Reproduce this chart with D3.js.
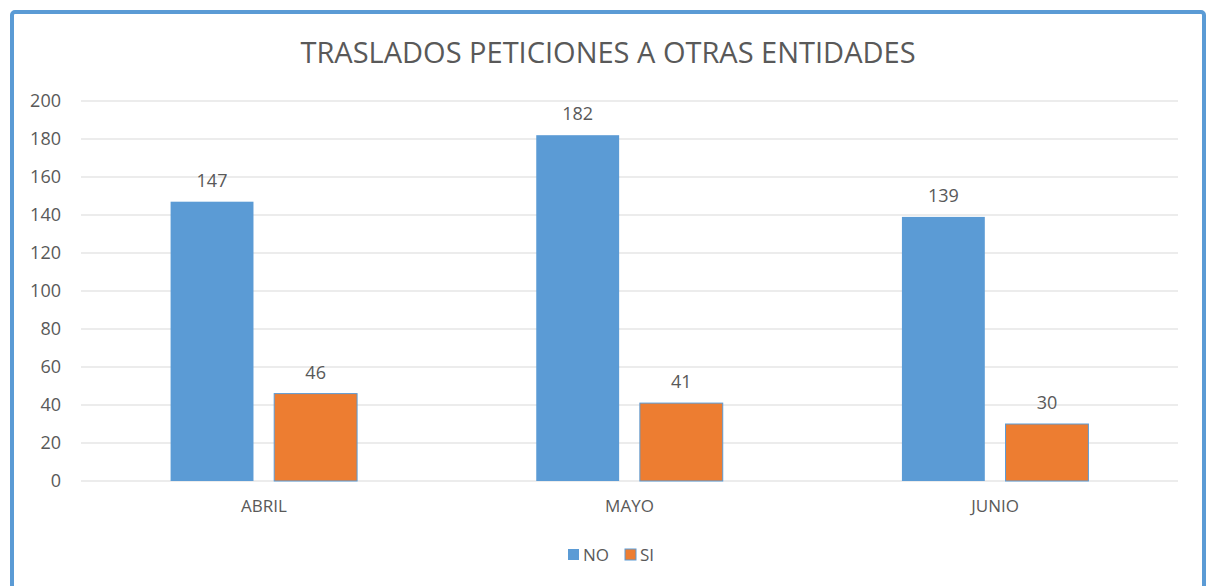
<!DOCTYPE html>
<html>
<head>
<meta charset="utf-8">
<script src="https://cdn.jsdelivr.net/npm/d3@7"></script>
<style>
  body { margin: 0; background: #fff; }
  text { font-family: "Open Sans", sans-serif; fill: #595959; }
</style>
</head>
<body>
<div class="chart"></div>
<script>
// chart data
const categories = ["ABRIL", "MAYO", "JUNIO"];
const seriesNames = ["NO", "SI"];
const noValues = [147, 182, 139];
const siValues = [46, 41, 30];
const yTicks = [0, 20, 40, 60, 80, 100, 120, 140, 160, 180, 200];

const colors = { NO: "#5B9BD5", SI: "#ED7D31" };

// layout
const W = 1210, H = 586;
const margin = { top: 101, left: 81, right: 32, bottom: 105 };
const width = W - margin.left - margin.right;
const height = H - margin.top - margin.bottom;

const svg = d3.select(".chart").append("svg")
    .attr("width", W)
    .attr("height", H);

// outer frame
svg.append("rect")
    .attr("x", 12).attr("y", 12)
    .attr("width", 1192).attr("height", 600)
    .attr("rx", 3)
    .attr("fill", "none")
    .attr("stroke", "#5B9BD5")
    .attr("stroke-width", 4);

// title
svg.append("text")
    .attr("x", 608).attr("y", 63)
    .attr("text-anchor", "middle")
    .style("font-size", "29px")
    .text("TRASLADOS PETICIONES A OTRAS ENTIDADES");

const g = svg.append("g")
    .attr("transform", `translate(${margin.left},${margin.top})`);

// scales
const x0 = d3.scaleBand()
    .domain(categories)
    .range([0, width])
    .paddingInner(0.49)
    .paddingOuter(0.245);

const x1 = d3.scaleBand()
    .domain(seriesNames)
    .range([0, x0.bandwidth()])
    .paddingInner(0.2);

const y = d3.scaleLinear()
    .domain([0, 200])
    .range([height, 0]);

// gridlines
g.append("g")
    .selectAll("line")
    .data(yTicks)
    .join("line")
    .attr("x1", 0).attr("x2", width)
    .attr("y1", d => y(d)).attr("y2", d => y(d))
    .attr("stroke", "#d9d9d9")
    .attr("stroke-width", 1);

// y axis labels
const yAxis = d3.axisLeft(y).tickValues(yTicks).tickSize(0).tickPadding(20);
g.append("g")
    .call(yAxis)
    .call(s => s.select(".domain").remove())
    .selectAll("text")
    .style("font-size", "18px");

// x axis labels
const xAxis = d3.axisBottom(x0).tickSize(0).tickPadding(19);
g.append("g")
    .attr("transform", `translate(0,${height})`)
    .call(xAxis)
    .call(s => s.select(".domain").remove())
    .selectAll("text")
    .style("font-size", "17px");

// bars
const rows = categories.map((c, i) => ({
    cat: c,
    vals: [{ key: "NO", v: noValues[i] }, { key: "SI", v: siValues[i] }]
}));

const groups = g.selectAll(".grp")
    .data(rows)
    .join("g")
    .attr("class", "grp")
    .attr("transform", d => `translate(${x0(d.cat)},0)`);

groups.selectAll("rect")
    .data(d => d.vals)
    .join("rect")
    .attr("x", d => x1(d.key))
    .attr("y", d => y(d.v))
    .attr("width", x1.bandwidth())
    .attr("height", d => height - y(d.v))
    .attr("fill", d => colors[d.key])
    .attr("stroke", d => d.key === "SI" ? "#5B9BD5" : "none")
    .attr("stroke-width", 1);

groups.selectAll(".lbl")
    .data(d => d.vals)
    .join("text")
    .attr("class", "lbl")
    .attr("x", d => x1(d.key) + x1.bandwidth() / 2)
    .attr("y", d => y(d.v) - 15)
    .attr("text-anchor", "middle")
    .style("font-size", "18px")
    .text(d => d.v);

// legend
const legend = svg.append("g").attr("transform", "translate(568,549)");
const items = legend.selectAll("g")
    .data(seriesNames)
    .join("g")
    .attr("transform", (d, i) => `translate(${i * 57},0)`);

items.append("rect")
    .attr("width", 11).attr("height", 11)
    .attr("fill", d => colors[d])
    .attr("stroke", d => d === "SI" ? "#5B9BD5" : "none");

items.append("text")
    .attr("x", 15).attr("y", 12)
    .style("font-size", "17px")
    .text(d => d);
</script>
</body>
</html>
